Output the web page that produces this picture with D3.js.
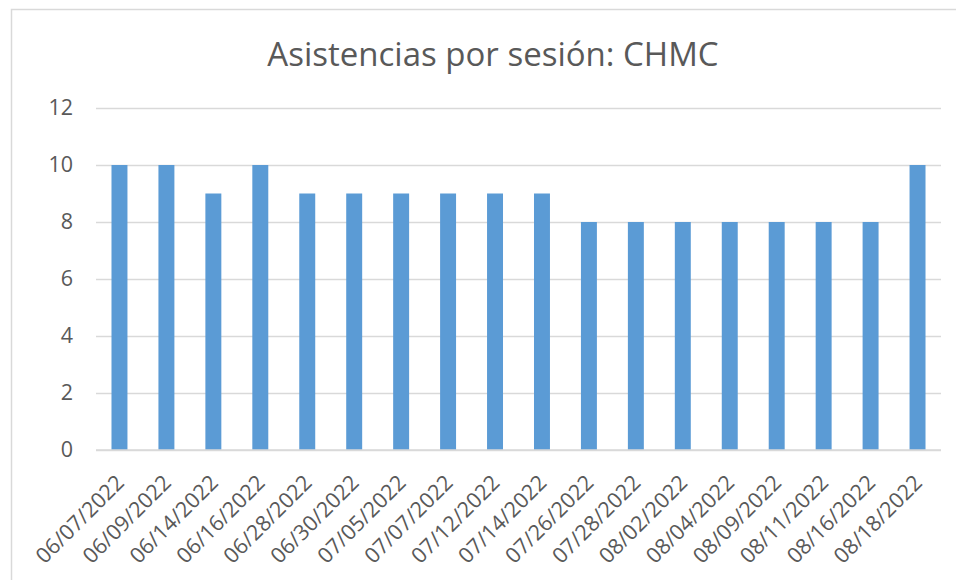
<!DOCTYPE html>
<html>
<head>
<meta charset="utf-8">
<script src="https://cdn.jsdelivr.net/npm/d3@7"></script>
<style>
  html,body{margin:0;padding:0;background:#fff;}
  svg{display:block;font-family:"Open Sans",sans-serif;}
</style>
</head>
<body>
<svg id="chart" width="956" height="580"></svg>
<script>
// ── data ──
const DATES=["06/07/2022","06/09/2022","06/14/2022","06/16/2022","06/28/2022","06/30/2022",
  "07/05/2022","07/07/2022","07/12/2022","07/14/2022","07/26/2022","07/28/2022",
  "08/02/2022","08/04/2022","08/09/2022","08/11/2022","08/16/2022","08/18/2022"];
const ASIST=[10,10,9,10,9,9,9,9,9,9,8,8,8,8,8,8,8,10];
const YTICKS=[0,2,4,6,8,10,12];
const TITLE="Asistencias por sesión: CHMC";

const svg=d3.select("#chart");
const W=956,H=580;
const plot={l:96,r:941,t:108,b:450};

// chart frame
svg.append("rect").attr("x",11.5).attr("y",9.5).attr("width",W).attr("height",H)
  .attr("fill","#fff").attr("stroke","#d9d9d9").attr("stroke-width",1.5);

svg.append("text").attr("x",493).attr("y",66).attr("text-anchor","middle")
  .attr("font-size",33).attr("fill","#595959").text(TITLE);

const x=d3.scaleBand().domain(DATES).range([plot.l,plot.r]).paddingInner(0.66).paddingOuter(0.33);
const y=d3.scaleLinear().domain([0,12]).range([plot.b,plot.t]);

// gridlines + y labels
const yAx=svg.append("g").attr("transform",`translate(${plot.l},0)`)
  .call(d3.axisLeft(y).tickValues(YTICKS).tickSize(-(plot.r-plot.l)).tickPadding(23));
yAx.select(".domain").remove();
yAx.selectAll(".tick line").attr("stroke","#d9d9d9").attr("stroke-width",1.5);
yAx.selectAll(".tick text").attr("font-size",21.5).attr("fill","#595959").attr("font-family","Open Sans");

// bars
svg.append("g").selectAll("rect").data(ASIST).join("rect")
  .attr("x",(d,i)=>x(DATES[i])).attr("width",x.bandwidth())
  .attr("y",d=>y(d)).attr("height",d=>y(0)-y(d)).attr("fill","#5b9bd5");

// x axis baseline + labels
svg.append("line").attr("x1",plot.l).attr("x2",plot.r).attr("y1",y(0)).attr("y2",y(0))
  .attr("stroke","#d9d9d9").attr("stroke-width",1.5);
const xAx=svg.append("g").attr("transform",`translate(0,${y(0)})`)
  .call(d3.axisBottom(x).tickSize(0).tickPadding(0));
xAx.select(".domain").remove();
xAx.selectAll(".tick text")
  .attr("font-size",21.5).attr("fill","#595959").attr("font-family","Open Sans")
  .attr("text-anchor","end").attr("dy",0).attr("y",0)
  .attr("transform","translate(6,34) rotate(-45)");
</script>
</body>
</html>
